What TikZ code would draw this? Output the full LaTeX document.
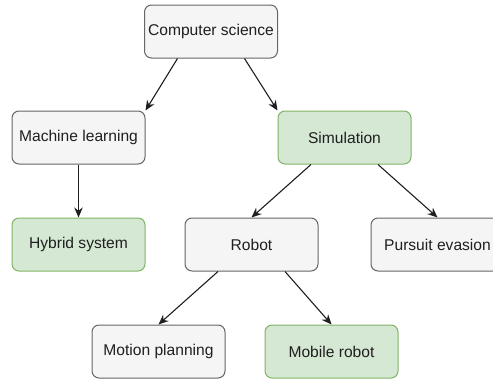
\documentclass[tikz,border=0pt]{standalone}
\usepackage{fontspec}
\setmainfont{Liberation Sans}
\usetikzlibrary{arrows.meta,calc}
\definecolor{grayfill}{HTML}{F5F5F5}
\definecolor{graydraw}{HTML}{666666}
\definecolor{greenfill}{HTML}{D5E8D4}
\definecolor{greendraw}{HTML}{82B366}
\begin{document}
\begin{tikzpicture}[x=1pt,y=-1pt,
  box/.style={rounded corners=7pt,minimum width=133pt,minimum height=53pt,inner sep=0pt,line width=1pt,font=\fontsize{15.6}{18}\selectfont,text=black!88},
  graybox/.style={box,draw=graydraw,fill=grayfill},
  greenbox/.style={box,draw=greendraw,fill=greenfill},
  arr/.style={line width=1.1pt,draw=black!88,-{Stealth[length=10pt,width=8.5pt]}}]
\useasboundingbox (0,0) rectangle (493,378);
\node[graybox] (cs) at (211,31.5) {Computer science};
\node[graybox] (ml) at (78.5,137.5) {Machine learning};
\node[greenbox] (sim) at (344.5,137.5) {Simulation};
\node[greenbox] (hy) at (78.5,244.5) {Hybrid system};
\node[graybox] (rob) at (251.5,244.5) {Robot};
\node[graybox] (pe) at (437.5,244.5) {Pursuit evasion};
\node[graybox] (mp) at (158.5,351.5) {Motion planning};
\node[greenbox] (mr) at (331.5,351.5) {Mobile robot};
\draw[arr] ($(cs.south west)!0.25!(cs.south east)$) -- (ml.north east);
\draw[arr] ($(cs.south west)!0.75!(cs.south east)$) -- (sim.north west);
\draw[arr] (ml.south) -- (hy.north);
\draw[arr] ($(sim.south west)!0.25!(sim.south east)$) -- (rob.north);
\draw[arr] ($(sim.south west)!0.75!(sim.south east)$) -- (pe.north);
\draw[arr] ($(rob.south west)!0.25!(rob.south east)$) -- (mp.north);
\draw[arr] ($(rob.south west)!0.75!(rob.south east)$) -- (mr.north);
\end{tikzpicture}
\end{document}
